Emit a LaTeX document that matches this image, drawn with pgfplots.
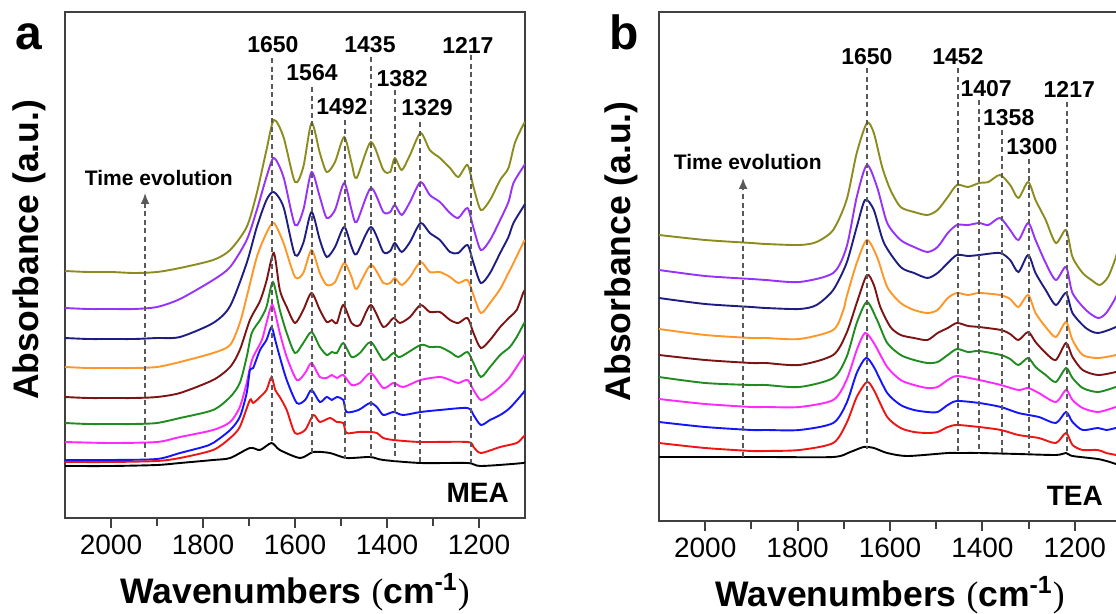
\documentclass[border=0pt]{standalone}
\usepackage{fontspec}
\setmainfont{Liberation Sans}
\newfontfamily\seriffont{Liberation Serif}
\usepackage{pgfplots}
\pgfplotsset{compat=1.18}
\usetikzlibrary{arrows.meta}

\definecolor{colOlive}{RGB}{140,140,30}
\definecolor{colPurple}{RGB}{150,50,250}
\definecolor{colNavy}{RGB}{30,30,130}
\definecolor{colOrange}{RGB}{255,150,40}
\definecolor{colMaroon}{RGB}{125,20,20}
\definecolor{colGreen}{RGB}{30,140,30}
\definecolor{colMagenta}{RGB}{255,40,255}
\definecolor{colBlue}{RGB}{20,20,255}
\definecolor{colRed}{RGB}{240,20,20}

\tikzset{
  peak/.style={font=\fontsize{11.5bp}{13bp}\selectfont\bfseries},
  vline/.style={black!65, line width=0.95bp, dash pattern=on 2.5bp off 1.8bp},
}

\pgfplotsset{
  spec/.style={
    scale only axis,
    x dir=reverse,
    xmin=1100, xmax=2100,
    xtick={1200,1400,1600,1800,2000},
    minor xtick={1300,1500,1700,1900},
    xtick pos=left,
    ytick=\empty,
    tick align=outside,
    major tick length=5bp,
    minor tick length=4bp,
    axis line style={line width=1bp, black!75},
    every tick/.style={line width=1bp, black!75},
    tick label style={font=\fontsize{14bp}{16bp}\selectfont},
    /pgf/number format/assume math mode=true,
    /pgf/number format/1000 sep={},
    xlabel={Wavenumbers {\seriffont\mdseries(}cm\textsuperscript{-1}{\seriffont\mdseries)}},
    xlabel style={font=\fontsize{17.75bp}{20bp}\selectfont\bfseries,
      at={(axis description cs:0.5,0)}, anchor=base, yshift=-42.5bp},
    ylabel={Absorbance (a.u.)},
    ylabel style={font=\fontsize{17.75bp}{20bp}\selectfont\bfseries,
      at={(axis description cs:-0.078,0.53)}, anchor=center},
    every axis plot/.append style={line width=0.95bp, smooth, tension=0.45},
  },
}

\begin{document}
\begin{tikzpicture}
\useasboundingbox (0,0) rectangle (558bp,307bp);

% ---------------- panel a: MEA ----------------
\begin{axis}[spec, at={(32.5bp,48bp)}, anchor=south west,
  width=230bp, height=253bp, ymin=-1, ymax=505]
\addplot[colOlive] coordinates {(2100,246)(2050,245)(2000,245)(1950,244)(1900,245)(1850,249)(1778,257)(1741,267)(1705,290)(1683,324)(1662,367)(1646,397)(1625,380)(1600,335)(1582,350)(1564,394)(1546,364)(1531,345)(1513,355)(1493,380)(1477,354)(1466,339)(1435,375)(1408,347)(1393,345)(1383,359)(1368,347)(1350,362)(1327,384)(1307,367)(1285,359)(1263,349)(1245,340)(1225,352)(1212,330)(1196,307)(1176,317)(1154,337)(1136,349)(1122,374)(1104,392)(1100,395)};
\addplot[colPurple] coordinates {(2100,209)(2050,208)(2000,208)(1950,208)(1900,210)(1850,218)(1778,237)(1741,250)(1705,277)(1683,307)(1662,340)(1646,359)(1625,340)(1600,292)(1582,307)(1564,345)(1546,320)(1531,299)(1513,307)(1493,334)(1477,307)(1466,295)(1435,329)(1408,305)(1393,305)(1383,312)(1368,302)(1350,315)(1327,335)(1307,322)(1285,315)(1263,304)(1245,299)(1225,309)(1212,289)(1196,267)(1176,277)(1154,297)(1136,315)(1125,334)(1104,350)(1100,353)};
\addplot[colNavy] coordinates {(2100,179)(2050,178)(2000,178)(1950,178)(1900,179)(1850,180)(1778,194)(1741,211)(1705,254)(1683,290)(1662,317)(1646,325)(1625,310)(1600,262)(1582,274)(1564,305)(1546,277)(1531,260)(1513,270)(1493,290)(1477,270)(1466,263)(1435,290)(1408,265)(1393,266)(1383,274)(1368,265)(1350,275)(1327,294)(1307,284)(1285,277)(1263,265)(1245,264)(1225,272)(1212,254)(1196,234)(1176,244)(1154,264)(1136,280)(1125,294)(1104,310)(1100,313)};
\addplot[colOrange] coordinates {(2100,150)(2050,149)(2000,149)(1950,149)(1900,150)(1850,155)(1778,164)(1741,172)(1720,194)(1705,220)(1683,260)(1662,284)(1646,294)(1625,274)(1600,240)(1582,244)(1564,267)(1546,244)(1531,232)(1513,235)(1493,254)(1477,240)(1466,228)(1435,252)(1408,234)(1393,234)(1383,239)(1368,232)(1350,240)(1327,255)(1307,245)(1285,245)(1263,240)(1245,234)(1225,237)(1212,222)(1196,204)(1176,214)(1154,228)(1136,244)(1125,254)(1104,274)(1100,277)};
\addplot[colMaroon] coordinates {(2100,120)(2050,119)(2000,119)(1950,119)(1900,120)(1850,124)(1778,137)(1741,150)(1720,167)(1698,197)(1676,216)(1662,236)(1646,264)(1633,227)(1618,210)(1600,194)(1582,207)(1564,224)(1546,207)(1531,195)(1520,197)(1509,194)(1495,212)(1477,194)(1459,192)(1435,212)(1408,190)(1386,199)(1372,194)(1350,200)(1327,212)(1307,205)(1285,205)(1263,197)(1245,194)(1225,199)(1212,184)(1196,169)(1176,177)(1154,190)(1133,200)(1118,207)(1104,224)(1100,227)};
\addplot[colGreen] coordinates {(2100,94)(2050,93)(2000,93)(1950,93)(1900,94)(1850,99)(1778,107)(1741,120)(1720,134)(1705,160)(1694,184)(1676,197)(1662,210)(1648,235)(1633,207)(1618,184)(1600,164)(1582,174)(1564,185)(1546,170)(1531,162)(1520,165)(1509,164)(1495,174)(1477,160)(1459,164)(1435,175)(1408,157)(1386,164)(1372,160)(1327,172)(1307,170)(1285,170)(1263,165)(1245,160)(1225,165)(1212,154)(1196,140)(1176,150)(1154,162)(1133,170)(1118,180)(1104,192)(1100,195)};
\addplot[colMagenta] coordinates {(2100,75)(2000,74)(1900,75)(1850,80)(1778,87)(1741,95)(1720,110)(1705,134)(1698,149)(1691,160)(1672,177)(1662,194)(1649,212)(1633,184)(1618,160)(1596,137)(1578,144)(1564,154)(1546,140)(1531,139)(1520,142)(1509,139)(1495,142)(1477,132)(1459,134)(1435,144)(1408,129)(1386,134)(1365,130)(1327,137)(1285,140)(1263,137)(1245,134)(1225,137)(1212,127)(1196,117)(1176,122)(1154,130)(1133,140)(1104,160)(1100,163)};
\addplot[colBlue] coordinates {(2100,57)(2000,57)(1900,58)(1850,64)(1800,70)(1778,74)(1741,87)(1720,100)(1705,124)(1698,147)(1691,149)(1676,167)(1662,177)(1651,190)(1643,177)(1633,160)(1618,137)(1596,114)(1578,117)(1564,127)(1546,115)(1531,120)(1520,117)(1509,120)(1495,117)(1488,105)(1462,107)(1437,114)(1422,110)(1408,102)(1386,105)(1365,102)(1327,105)(1285,107)(1225,109)(1212,102)(1196,92)(1176,97)(1154,102)(1133,109)(1104,124)(1100,127)};
\addplot[colRed] coordinates {(2100,55)(2000,55)(1900,56)(1850,59)(1778,67)(1741,79)(1720,90)(1698,117)(1691,114)(1676,120)(1662,127)(1651,140)(1643,127)(1633,120)(1618,107)(1600,84)(1578,87)(1560,102)(1546,95)(1524,99)(1509,95)(1495,94)(1488,84)(1462,85)(1437,85)(1422,84)(1408,79)(1386,77)(1327,75)(1225,75)(1212,70)(1196,64)(1154,70)(1118,74)(1104,80)(1100,82)};
\addplot[black] coordinates {(2100,51)(2000,51)(1900,52)(1850,54)(1778,57)(1741,59)(1698,69)(1676,67)(1651,74)(1633,67)(1589,59)(1560,65)(1524,64)(1488,59)(1437,60)(1408,57)(1327,54)(1225,54)(1196,51)(1104,54)(1100,56)};

\draw[vline] (axis cs:1650,459) -- (axis cs:1650,72);
\draw[vline] (axis cs:1564,430) -- (axis cs:1564,62);
\draw[vline] (axis cs:1492,397) -- (axis cs:1492,58);
\draw[vline] (axis cs:1435,460) -- (axis cs:1435,60);
\draw[vline] (axis cs:1382,427) -- (axis cs:1382,56);
\draw[vline] (axis cs:1329,395) -- (axis cs:1329,54);
\draw[vline] (axis cs:1217,462) -- (axis cs:1217,54);
\node[peak] at (axis cs:1648,472) {1650};
\node[peak] at (axis cs:1563,444) {1564};
\node[peak] at (axis cs:1498,410) {1492};
\node[peak] at (axis cs:1437,472) {1435};
\node[peak] at (axis cs:1367,438) {1382};
\node[peak] at (axis cs:1313,409) {1329};
\node[peak] at (axis cs:1224,472) {1217};
\draw[vline, -{Latex[length=5.5bp,width=4.5bp]}] (axis cs:1926,60) -- (axis cs:1926,324);
\node[font=\fontsize{10.5bp}{12bp}\selectfont\bfseries] at (axis cs:1896,339) {Time evolution};
\node[anchor=base east, font=\fontsize{14bp}{16bp}\selectfont\bfseries] at (rel axis cs:0.98,0.03) {MEA};
\end{axis}

% ---------------- panel b: TEA ----------------
\begin{axis}[spec, at={(329.5bp,46.5bp)}, anchor=south west,
  width=231bp, height=254.5bp, ymin=-4, ymax=505,
  ylabel style={at={(axis description cs:-0.082,0.53)}}]
\addplot[colOlive] coordinates {(2100,282)(2000,277)(1900,274)(1869,273)(1796,272)(1759,275)(1723,287)(1694,317)(1672,364)(1650,394)(1635,384)(1617,350)(1599,327)(1577,310)(1548,305)(1519,302)(1497,307)(1475,320)(1455,332)(1431,330)(1407,334)(1387,335)(1362,342)(1340,332)(1322,319)(1301,335)(1285,317)(1263,297)(1241,274)(1219,287)(1205,260)(1183,244)(1164,237)(1146,232)(1128,240)(1111,260)(1100,280)};
\addplot[colPurple] coordinates {(2100,247)(2000,241)(1900,238)(1869,237)(1796,235)(1723,244)(1694,270)(1672,320)(1650,352)(1628,330)(1606,294)(1577,277)(1548,270)(1519,265)(1497,270)(1475,284)(1455,292)(1431,292)(1407,294)(1387,292)(1362,299)(1340,287)(1322,277)(1301,294)(1285,277)(1263,254)(1241,237)(1219,250)(1205,224)(1176,207)(1150,199)(1132,204)(1111,220)(1100,235)};
\addplot[colNavy] coordinates {(2100,219)(2000,213)(1900,210)(1869,209)(1796,208)(1759,212)(1723,227)(1694,254)(1672,290)(1654,317)(1635,307)(1613,274)(1577,250)(1548,244)(1519,239)(1497,244)(1475,254)(1455,262)(1431,261)(1407,262)(1362,264)(1340,257)(1322,245)(1301,262)(1285,244)(1263,227)(1241,212)(1219,224)(1205,204)(1176,189)(1150,184)(1111,190)(1100,196)};
\addplot[colOrange] coordinates {(2100,188)(2000,182)(1900,179)(1869,179)(1796,178)(1723,187)(1701,207)(1694,220)(1672,254)(1650,277)(1628,260)(1606,230)(1577,214)(1548,207)(1519,204)(1497,207)(1475,219)(1455,224)(1431,222)(1407,224)(1362,222)(1340,218)(1322,210)(1301,222)(1285,204)(1263,190)(1241,180)(1219,195)(1205,177)(1183,162)(1150,159)(1111,162)(1100,165)};
\addplot[colMaroon] coordinates {(2100,162)(2000,157)(1900,154)(1869,154)(1796,152)(1723,162)(1694,184)(1672,214)(1650,242)(1635,232)(1621,210)(1599,190)(1577,182)(1548,179)(1519,177)(1497,184)(1475,189)(1455,194)(1431,191)(1407,190)(1360,187)(1340,183)(1322,177)(1301,185)(1285,175)(1263,164)(1241,157)(1219,174)(1205,160)(1183,147)(1150,142)(1111,145)(1100,147)};
\addplot[colGreen] coordinates {(2100,140)(2000,134)(1900,132)(1869,132)(1796,130)(1723,139)(1694,160)(1672,194)(1650,215)(1628,197)(1606,174)(1577,162)(1548,157)(1519,154)(1497,155)(1475,162)(1455,168)(1431,165)(1407,166)(1360,162)(1340,158)(1322,152)(1301,159)(1285,150)(1263,142)(1241,135)(1219,149)(1205,139)(1183,129)(1150,125)(1111,130)(1100,132)};
\addplot[colMagenta] coordinates {(2100,118)(2000,113)(1900,110)(1869,110)(1796,110)(1723,117)(1694,137)(1672,167)(1654,184)(1635,174)(1606,150)(1577,137)(1548,132)(1519,129)(1497,130)(1475,137)(1455,141)(1407,137)(1360,132)(1322,127)(1301,129)(1278,124)(1241,115)(1219,127)(1205,117)(1183,109)(1150,105)(1111,110)(1100,112)};
\addplot[colBlue] coordinates {(2100,95)(2000,90)(1900,87)(1869,87)(1796,87)(1723,94)(1694,114)(1672,144)(1652,159)(1635,150)(1606,124)(1577,112)(1548,107)(1519,105)(1497,105)(1475,112)(1455,116)(1407,114)(1360,110)(1322,104)(1278,100)(1241,94)(1219,105)(1205,95)(1183,87)(1150,89)(1132,87)(1111,89)(1100,90)};
\addplot[colRed] coordinates {(2100,74)(2000,69)(1900,66)(1869,66)(1796,67)(1723,74)(1694,94)(1672,120)(1650,135)(1635,127)(1606,100)(1577,89)(1548,85)(1519,84)(1497,85)(1475,90)(1455,92)(1407,90)(1360,87)(1322,82)(1278,79)(1241,74)(1219,84)(1205,72)(1183,67)(1150,67)(1132,64)(1111,62)(1100,60)};
\addplot[black] coordinates {(2100,60)(2000,60)(1869,60)(1723,60)(1686,65)(1657,70)(1635,69)(1606,64)(1562,61)(1475,64)(1455,64)(1407,64)(1322,63)(1241,62)(1219,64)(1205,61)(1150,58)(1124,55)(1111,53)(1100,52)};

\draw[vline] (axis cs:1650,449) -- (axis cs:1650,68);
\draw[vline] (axis cs:1452,449) -- (axis cs:1452,64);
\draw[vline] (axis cs:1407,417) -- (axis cs:1407,64);
\draw[vline] (axis cs:1358,387) -- (axis cs:1358,63);
\draw[vline] (axis cs:1300,358) -- (axis cs:1300,63);
\draw[vline] (axis cs:1217,415) -- (axis cs:1217,63);
\node[peak] at (axis cs:1650,460) {1650};
\node[peak] at (axis cs:1453,460) {1452};
\node[peak] at (axis cs:1392,428) {1407};
\node[peak] at (axis cs:1212,428) {1217};
\node[peak] at (axis cs:1343,399) {1358};
\node[peak] at (axis cs:1293,370) {1300};
\draw[vline, -{Latex[length=5.5bp,width=4.5bp]}] (axis cs:1918,60) -- (axis cs:1918,339);
\node[font=\fontsize{10.5bp}{12bp}\selectfont\bfseries] at (axis cs:1908,355) {Time evolution};
\node[anchor=base east, font=\fontsize{14bp}{16bp}\selectfont\bfseries] at (rel axis cs:0.976,0.031) {TEA};
\end{axis}

\node[anchor=base, font=\fontsize{24bp}{24bp}\selectfont\bfseries] at (14.5bp,282bp) {a};
\node[anchor=base, font=\fontsize{24bp}{24bp}\selectfont\bfseries] at (312bp,282bp) {b};
\end{tikzpicture}
\end{document}
